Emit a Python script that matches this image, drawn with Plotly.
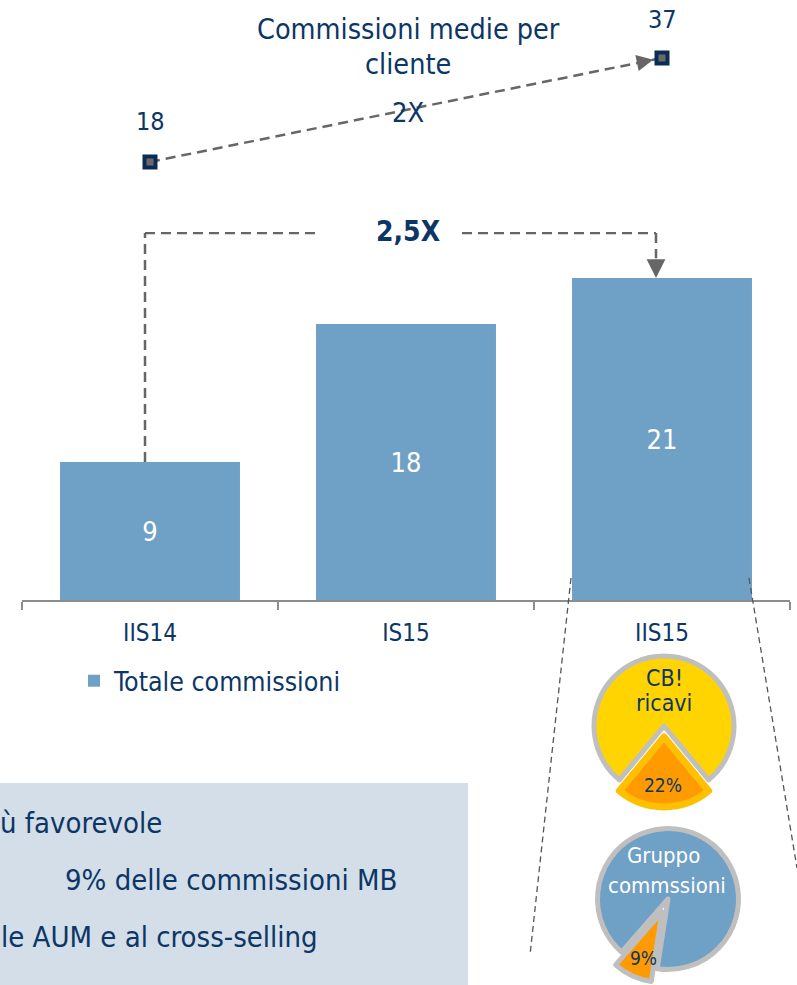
import plotly.graph_objects as go

W, H = 797, 985

# ---------------- data ----------------
categories = ["IIS14", "IS15", "IIS15"]
total_commissions = [9, 18, 21]
series_name = "Totale commissioni"

avg_categories = ["IIS14", "IIS15"]
avg_commission_per_client = [18, 37]
avg_title_lines = ["Commissioni medie per", "cliente"]
avg_multiple = "2X"
total_multiple = "2,5X"

cb_title_lines = ["CB!", "ricavi"]
cb_share = [22, 78]
group_title_lines = ["Gruppo", "commssioni"]
group_share = [9, 91]

box_lines = ["ù favorevole", "9% delle commissioni MB", "le AUM e al cross-selling"]

# ---------------- style ----------------
FONT = "DejaVu Sans Condensed, DejaVu Sans, sans-serif"
NAVY = "#0c3665"
BLUE = "#6fa0c6"
DASH_GREY = "#666666"
AXIS_GREY = "#8c8c8c"
YELLOW = "#ffd400"
ORANGE = "#ff9a00"
AMBER = "#ffc000"
RIM = "#bfbfbf"
BOX = "#d3dee8"


def px(x):
    return x / W


def py(y):
    return 1 - y / H


# axis geometry (pixels)
AX_L, AX_R = 22, 790
BASE_PX = 600
PX_PER_UNIT = 15.33
Y_TOP = 24
Y2_ZERO_PX = 260.5
Y2_PX_PER_UNIT = 5.474
Y2_TOP = Y2_ZERO_PX / Y2_PX_PER_UNIT

fig = go.Figure()

fig.add_trace(go.Bar(
    x=categories, y=total_commissions, name=series_name,
    marker=dict(color=BLUE, line=dict(width=0)), width=0.703,
    text=total_commissions, textposition="inside", insidetextanchor="middle",
    textfont=dict(color="white", size=27, family=FONT),
    hoverinfo="skip", showlegend=True,
))

fig.add_trace(go.Scatter(
    x=avg_categories, y=avg_commission_per_client, yaxis="y2",
    mode="lines+markers",
    line=dict(color=DASH_GREY, width=2.5, dash="10px,6px"),
    marker=dict(symbol="square", size=11, color="#6a6a6a",
                line=dict(color="#0b2d55", width=4)),
    hoverinfo="skip", showlegend=False,
))

# pies
cb_cx, cb_cy, cb_r, cb_pull = 664, 726, 70, 0.157
cb_half = cb_r * (1 + cb_pull)
fig.add_trace(go.Pie(
    values=cb_share, sort=False, direction="clockwise",
    rotation=180 - cb_share[0] * 3.6 / 2,
    pull=[cb_pull, 0], textinfo="none", hoverinfo="skip", showlegend=False,
    marker=dict(colors=[ORANGE, YELLOW], line=dict(color=[AMBER, RIM], width=[7, 5])),
    domain=dict(x=[px(cb_cx - cb_half), px(cb_cx + cb_half)],
                y=[py(cb_cy + cb_half), py(cb_cy - cb_half)]),
))

g_cx, g_cy, g_r, g_pull = 668, 899, 70.5, 0.2
g_half = g_r * (1 + g_pull)
g_rot = 205 - group_share[0] * 3.6 / 2
fig.add_trace(go.Pie(
    values=group_share, sort=False, direction="clockwise",
    rotation=g_rot - 360,
    pull=[g_pull, 0], textinfo="none", hoverinfo="skip", showlegend=False,
    marker=dict(colors=[ORANGE, BLUE], line=dict(color=[RIM, RIM], width=[5, 5])),
    domain=dict(x=[px(g_cx - g_half), px(g_cx + g_half)],
                y=[max(0, py(g_cy + g_half)), py(g_cy - g_half)]),
))

shapes = []
# bottom text box
shapes.append(dict(type="rect", xref="paper", yref="paper", x0=-0.02, x1=px(468),
                   y0=-0.01, y1=py(783), fillcolor=BOX, line=dict(width=0), layer="below"))

# 2,5X bracket (data coordinates)
bx_l = 0 - 5 / 256
bx_r = 2 - 6 / 256
yb = 23.94
dash = dict(color=DASH_GREY, width=2.5, dash="10px,6px")
shapes += [
    dict(type="line", xref="x", yref="y", x0=bx_l, x1=bx_l, y0=total_commissions[0], y1=yb, line=dash),
    dict(type="line", xref="x", yref="y", x0=bx_l, x1=(318 - 150) / 256, y0=yb, y1=yb, line=dash),
    dict(type="line", xref="x", yref="y", x0=(462 - 150) / 256, x1=bx_r, y0=yb, y1=yb, line=dash),
    dict(type="line", xref="x", yref="y", x0=bx_r, x1=bx_r, y0=yb, y1=22.3, line=dash),
]
# zoom lines to pies
thin = dict(color="#555555", width=1.3, dash="6px,4px")
shapes += [
    dict(type="line", xref="paper", yref="paper", x0=px(571), y0=py(578), x1=px(530), y1=py(955), line=thin),
    dict(type="line", xref="paper", yref="paper", x0=px(749), y0=py(578), x1=px(797), y1=py(868), line=thin),
]

ann = []


def text(x, y, s, size, color=NAVY, bold=False, xanchor="center"):
    ann.append(dict(x=px(x), y=py(y), xref="paper", yref="paper", text=f"<b>{s}</b>" if bold else s,
                    showarrow=False, xanchor=xanchor, yanchor="middle",
                    font=dict(family=FONT, size=size, color=color)))


text(408, 30, avg_title_lines[0], 28.5)
text(408, 65, avg_title_lines[1], 28.5)
text(408, 112, avg_multiple, 27)
text(408, 232, total_multiple, 28, bold=True)

for c, v in zip(avg_categories, avg_commission_per_client):
    ann.append(dict(x=c, y=v, xref="x", yref="y2", text=str(v), showarrow=False,
                    yshift=38 if v == max(avg_commission_per_client) else 40,
                    font=dict(family=FONT, size=25, color=NAVY)))

# arrow head of top dashed line
i37 = categories.index(avg_categories[1])
ax37 = i37 - 0.1
ay37 = avg_commission_per_client[1] - 0.1 * (avg_commission_per_client[1] - avg_commission_per_client[0]) / i37
ann.append(dict(x=i37, y=avg_commission_per_client[1], xref="x", yref="y2",
                ax=ax37, ay=ay37, axref="x", ayref="y2", text="", showarrow=True,
                arrowhead=2, arrowsize=1.5, arrowwidth=2.2, arrowcolor=DASH_GREY, standoff=9))
# arrow head of bracket
ann.append(dict(x=bx_r, y=total_commissions[2], xref="x", yref="y",
                ax=bx_r, ay=22.3, axref="x", ayref="y", text="", showarrow=True,
                arrowhead=2, arrowsize=1.5, arrowwidth=2.5, arrowcolor=DASH_GREY, standoff=0))

# pie labels
text(664, 678, cb_title_lines[0], 23)
text(664, 703, cb_title_lines[1], 23)
text(663, 785, f"{cb_share[0]}%", 19)
text(663, 855, group_title_lines[0], 22, color="white")
text(667, 885, group_title_lines[1], 22, color="white")
text(643, 958, f"{group_share[0]}%", 19)

# box text
text(-2, 823, box_lines[0], 29, xanchor="left")
text(63, 880, box_lines[1], 29, xanchor="left")
text(-1, 937, box_lines[2], 29, xanchor="left")

fig.update_layout(
    width=W, height=H, margin=dict(l=0, r=0, t=0, b=0),
    paper_bgcolor="white", plot_bgcolor="rgba(0,0,0,0)",
    font=dict(family=FONT, color=NAVY),
    xaxis=dict(domain=[px(AX_L), px(AX_R)], type="category", range=[-0.5, 2.5],
               showline=True, linecolor=AXIS_GREY, linewidth=1.5,
               ticks="outside", tickson="boundaries", ticklen=8, tickcolor=AXIS_GREY, tickwidth=1.5,
               ticklabelstandoff=10,
               tickfont=dict(size=24, color=NAVY, family=FONT), showgrid=False, zeroline=False,
               fixedrange=True, anchor="y"),
    yaxis=dict(domain=[py(BASE_PX), py(BASE_PX - Y_TOP * PX_PER_UNIT)], range=[0, Y_TOP],
               visible=False, fixedrange=True),
    yaxis2=dict(domain=[py(Y2_ZERO_PX), 1], range=[0, Y2_TOP], anchor="x",
                visible=False, fixedrange=True),
    legend=dict(x=px(74), y=py(681), xanchor="left", yanchor="middle",
                font=dict(size=26.5, color=NAVY, family=FONT), bgcolor="rgba(0,0,0,0)"),
    shapes=shapes, annotations=ann, bargap=0.3,
)

fig.write_html(
    "out.html",
    config={"displayModeBar": False},
    post_script=("document.documentElement.style.margin='0';document.body.style.margin='0';"
                 "document.body.style.padding='0';document.documentElement.style.overflow='hidden';"
                 "document.body.style.overflow='hidden';"),
)
